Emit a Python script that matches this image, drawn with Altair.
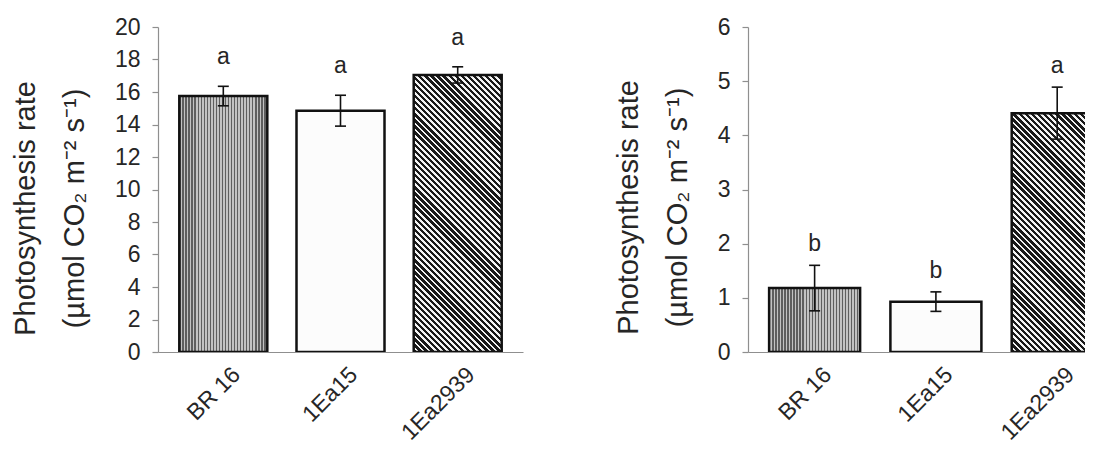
import math
import json
import altair as alt
import pandas as pd

# ---------------- data ----------------
categories = ["BR 16", "1Ea15", "1Ea2939"]
positions = [0, 1, 2]

left_mean = [15.75, 14.85, 17.05]
left_se = [0.60, 0.95, 0.50]
left_letters = ["a", "a", "a"]
left_ticks = [0, 2, 4, 6, 8, 10, 12, 14, 16, 18, 20]

right_mean = [1.18, 0.93, 4.41]
right_se = [0.42, 0.18, 0.48]
right_letters = ["b", "b", "a"]
right_ticks = [0, 1, 2, 3, 4, 5, 6]

TITLE = ["Photosynthesis rate", "(µmol CO₂ m⁻² s⁻¹)"]
FONT = "Liberation Sans"
TXT = "#262626"
AXC = "#8f8f8f"
H = 325


def stripe_stops(n, frac, dark, light):
    stops = []
    for k in range(n):
        o0 = k / n
        o1 = (k + frac) / n
        o2 = (k + 1) / n
        stops += [
            alt.GradientStop(color=dark, offset=o0),
            alt.GradientStop(color=dark, offset=o1),
            alt.GradientStop(color=light, offset=o1),
            alt.GradientStop(color=light, offset=o2),
        ]
    return stops


def diag_gradient(w, h, period, frac, dark, light):
    """Diagonal '\\' stripes at 45 degrees in bounding-box gradient space."""
    b = 1.0
    a = w / h
    s = (a + b) / (a * a + b * b)
    n = max(1, int(round((w + h) / (period * math.sqrt(2)))))
    return alt.LinearGradient(gradient="linear",
                              stops=stripe_stops(n, frac, dark, light),
                              x1=0, y1=1, x2=a * s, y2=1 - b * s)


def vert_gradient(w, period, frac, dark, light):
    n = max(1, int(round(w / period)))
    return alt.LinearGradient(gradient="linear",
                              stops=stripe_stops(n, frac, dark, light),
                              x1=0, y1=0, x2=1, y2=0)


label_expr = json.dumps(categories) + "[datum.value]"


def panel(mean, se, letters, ymax, ticks, width, xdomain, bw, dy, title_y):
    df = pd.DataFrame({
        "pos": positions,
        "cat": categories,
        "mean": mean,
        "lo": [m - s for m, s in zip(mean, se)],
        "hi": [m + s for m, s in zip(mean, se)],
        "letter": letters,
    })
    xaxis = alt.Axis(title=None, values=positions, labelExpr=label_expr,
                     labelAngle=-45, labelAlign="right", labelBaseline="top",
                     labelPadding=11, labelOffset=5, ticks=False, tickSize=0,
                     grid=False, labelFontSize=23, labelColor=TXT,
                     labelFont=FONT, domainColor=AXC, domainWidth=1.2)
    xscale = alt.Scale(domain=xdomain, nice=False, zero=False)
    yaxis = alt.Axis(values=ticks, format="d", title=TITLE, grid=False,
                     tickSize=6, tickColor=AXC, tickWidth=1.2,
                     domainColor=AXC, domainWidth=1.2,
                     labelFontSize=23, labelFont=FONT, labelColor=TXT,
                     labelPadding=12, titleFontSize=29, titleFont=FONT,
                     titleFontWeight="normal", titleColor=TXT,
                     titlePadding=25, titleLineHeight=49, titleY=title_y)
    yscale = alt.Scale(domain=[0, ymax], nice=False, zero=True)

    def X():
        return alt.X("pos:Q", scale=xscale, axis=xaxis)

    def Y(f):
        return alt.Y(f, scale=yscale, axis=yaxis)

    fills = [
        vert_gradient(bw, 3.0, 0.45, "#5e5e5e", "#c2c2c2"),
        "#fcfcfc",
        diag_gradient(bw, mean[2] / ymax * H, 4.3, 0.55, "#1a1a1a", "#f4f4f4"),
    ]
    base = alt.Chart(df)
    layers = []
    for i, c in enumerate(categories):
        layers.append(
            base.transform_filter(alt.datum.cat == c)
            .mark_bar(fill=fills[i], stroke="#111111", strokeWidth=2.5,
                      size=bw, clip=True)
            .encode(x=X(), y=Y("mean:Q"))
        )
    err = base.mark_rule(color="#111111", strokeWidth=1.6, clip=True).encode(
        x=X(), y=Y("lo:Q"), y2="hi:Q")
    cap_hi = base.mark_rule(color="#111111", strokeWidth=1.6, xOffset=-5.5,
                            x2Offset=5.5).encode(
        x=X(), x2="pos:Q", y=Y("hi:Q"))
    cap_lo = base.mark_rule(color="#111111", strokeWidth=1.6, xOffset=-5.5,
                            x2Offset=5.5).encode(
        x=X(), x2="pos:Q", y=Y("lo:Q"))
    txt = base.mark_text(dy=dy, baseline="alphabetic", fontSize=23,
                         font=FONT, color=TXT).encode(
        x=X(), y=Y("hi:Q"), text="letter:N")
    return alt.layer(*layers, err, cap_hi, cap_lo, txt).properties(
        width=width, height=H)


left = panel(left_mean, left_se, left_letters, 20, left_ticks, 365,
             [-0.5145, 2.5145], 88, -22, 181)
right = panel(right_mean, right_se, right_letters, 6, right_ticks, 337,
              [-0.508, 2.188], 91, -14, 180)

chart = alt.hconcat(left, right, spacing=91).configure(
    background="white",
    padding={"left": 3, "top": 8, "right": 0, "bottom": 0},
).configure_view(stroke=None)

chart.save("out.html", embed_options={"renderer": "svg", "actions": False})
